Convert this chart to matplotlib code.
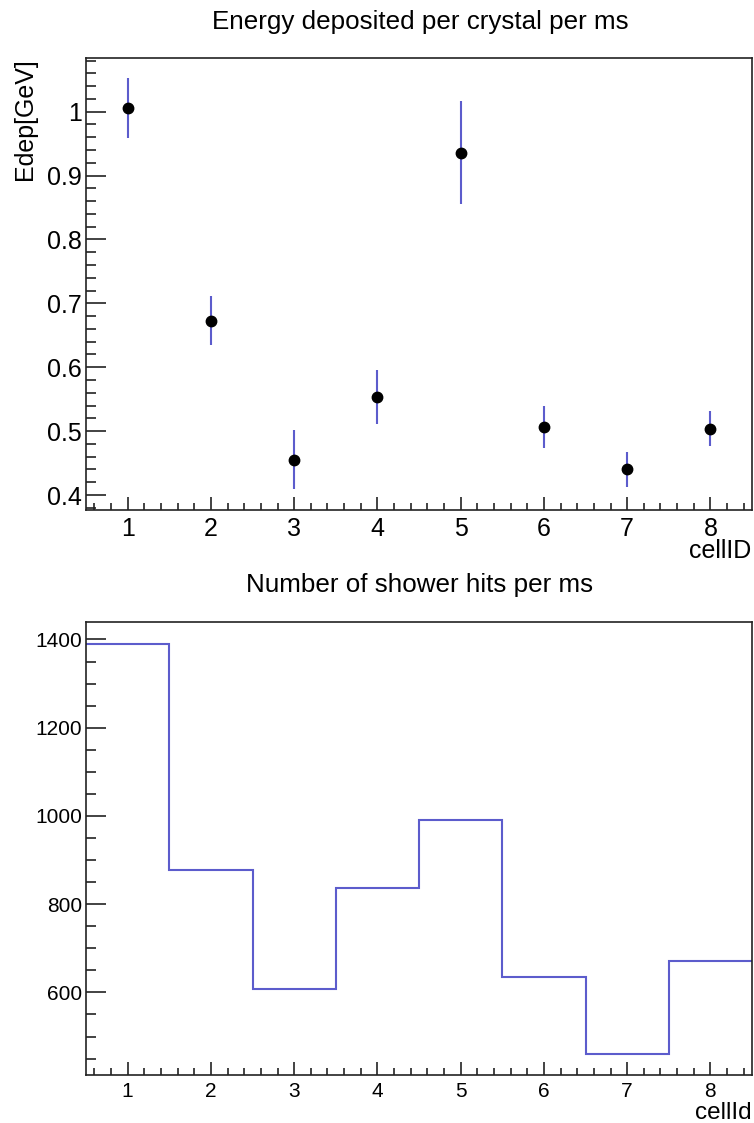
import matplotlib as mpl
mpl.use('Agg')
import matplotlib.pyplot as plt
from matplotlib.ticker import MultipleLocator

plt.rcParams['font.family'] = ['Liberation Sans', 'DejaVu Sans']

#data
cell_ids = [1, 2, 3, 4, 5, 6, 7, 8]
edep = [1.005, 0.673, 0.455, 0.553, 0.936, 0.507, 0.440, 0.504]
edep_err = [0.047, 0.038, 0.046, 0.042, 0.080, 0.033, 0.028, 0.028]
bin_edges = [0.5, 1.5, 2.5, 3.5, 4.5, 5.5, 6.5, 7.5, 8.5]
hits = [1389, 877, 607, 837, 990, 635, 460, 671]

blue = '#5c5ccc'
dark = '#222222'

fig = plt.figure(figsize=(7.54, 11.23), dpi=100)
ax1 = fig.add_axes([0.1141, 0.5459, 0.8833, 0.4025])
ax2 = fig.add_axes([0.1141, 0.0427, 0.8833, 0.4036])

#top panel: points with error bars
ax1.errorbar(cell_ids, edep, yerr=edep_err, fmt='none', ecolor=blue, elinewidth=1.5, capsize=0)
ax1.plot(cell_ids, edep, 'o', color='black', markersize=7.5, zorder=3)
ax1.set_xlim(0.5, 8.5)
ax1.set_ylim(0.3766, 1.084)
ax1.yaxis.set_major_locator(MultipleLocator(0.1))
ax1.yaxis.set_minor_locator(MultipleLocator(0.02))
ax1.set_yticks([0.4, 0.5, 0.6, 0.7, 0.8, 0.9, 1.0])
ax1.set_yticklabels(['0.4', '0.5', '0.6', '0.7', '0.8', '0.9', '1'])

#bottom panel: histogram
ax2.stairs(hits, bin_edges, baseline=None, color=blue, linewidth=1.5)
ax2.set_xlim(0.5, 8.5)
ax2.set_ylim(412.7, 1440)
ax2.yaxis.set_major_locator(MultipleLocator(200))
ax2.yaxis.set_minor_locator(MultipleLocator(50))

for ax, fs in [(ax1, 18), (ax2, 15)]:
    ax.xaxis.set_major_locator(MultipleLocator(1))
    ax.xaxis.set_minor_locator(MultipleLocator(0.2))
    ax.tick_params(axis='both', which='both', direction='in', color=dark,
                   labelsize=fs, top=False, right=False, width=1.2)
    ax.tick_params(axis='y', which='major', length=14.4, pad=3)
    ax.tick_params(axis='y', which='minor', length=7.2)
    ax.tick_params(axis='x', which='major', length=9.4, pad=5)
    ax.tick_params(axis='x', which='minor', length=5)
    for s in ax.spines.values():
        s.set_color(dark)
        s.set_linewidth(1.2)

#titles and axis labels placed like ROOT does it
fig.text(0.557, 0.980, 'Energy deposited per crystal per ms', ha='center', va='center', fontsize=18.7)
fig.text(0.556, 0.479, 'Number of shower hits per ms', ha='center', va='center', fontsize=18.7)
fig.text(0.033, 1 - 58 / 1123, 'Edep[GeV]', rotation=90, ha='center', va='top', fontsize=18)
fig.text(0.997, 1 - 551 / 1123, 'cellID', ha='right', va='center', fontsize=18)
fig.text(0.997, 1 - 1113 / 1123, 'cellId', ha='right', va='center', fontsize=17.5)

fig.savefig('out.png', dpi=100)
